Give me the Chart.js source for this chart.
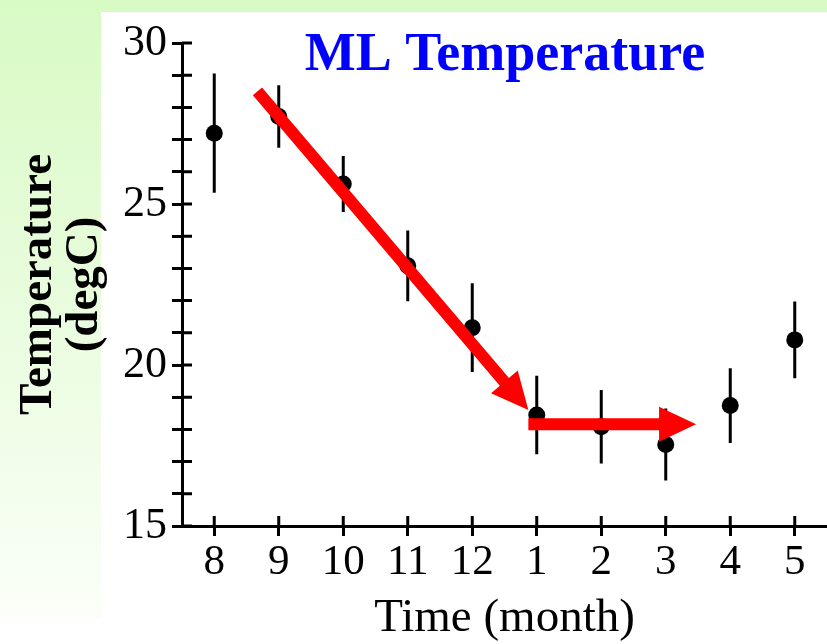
<!DOCTYPE html>
<html>
<head>
<meta charset="utf-8">
<script src="https://cdn.jsdelivr.net/npm/chart.js@4.4.1/dist/chart.umd.min.js"></script>
<style>
  html, body { margin: 0; padding: 0; background: #fff; }
  #wrap { width: 827px; height: 644px; }
</style>
</head>
<body>
<div id="wrap"><canvas id="myChartTemp" width="827" height="644"></canvas></div>
<script>
const months = ['8', '9', '10', '11', '12', '1', '2', '3', '4', '5'];
const temps = [27.2, 27.72, 25.62, 23.08, 21.16, 18.45, 18.08, 17.53, 18.74, 20.78];
const errors = [1.85, 0.97, 0.87, 1.1, 1.38, 1.22, 1.14, 1.12, 1.16, 1.19];
const yTicks = [15, 20, 25, 30];

// trend arrows, [month index, temperature]
const arrowStart = [[0.67, 28.5], [4.87, 18.16]];
const arrowEnd = [[4.87, 18.6], [7.47, 18.16]];

const serif = '"Liberation Serif", "Times New Roman", serif';

const background = {
  id: 'background',
  beforeDraw(chart) {
    const {ctx, width, height} = chart;
    ctx.save();
    const g = ctx.createLinearGradient(0, 0, 0, height);
    g.addColorStop(0, '#d8fac4');
    g.addColorStop(1, '#fcfffa');
    ctx.fillStyle = g;
    ctx.fillRect(0, 0, width, height);
    ctx.fillStyle = '#fff';
    ctx.fillRect(101, 12, width - 101, height - 12);
    ctx.fillRect(0, 618, width, height - 618);
    ctx.restore();
  }
};

// error bars plus the half of each tick mark that sits inside the plot
const errorBars = {
  id: 'errorBars',
  beforeDatasetsDraw(chart) {
    const {ctx, chartArea, scales: {x, y}} = chart;
    ctx.save();
    ctx.strokeStyle = '#000';
    ctx.lineWidth = 3;
    ctx.beginPath();
    for (let i = 0; i < temps.length; i++) {
      const px = x.getPixelForValue(i);
      ctx.moveTo(px, y.getPixelForValue(temps[i] + errors[i]));
      ctx.lineTo(px, y.getPixelForValue(temps[i] - errors[i]));
    }
    y.ticks.forEach(t => {
      const py = y.getPixelForValue(t.value);
      ctx.moveTo(chartArea.left, py);
      ctx.lineTo(chartArea.left + 10, py);
    });
    x.ticks.forEach(t => {
      const px = x.getPixelForValue(t.value);
      ctx.moveTo(px, chartArea.bottom);
      ctx.lineTo(px, chartArea.bottom - 10);
    });
    ctx.stroke();
    ctx.restore();
  }
};

function drawArrow(ctx, x1, y1, x2, y2) {
  const shaftW = 12, headL = 37, headW = 35;
  const ang = Math.atan2(y2 - y1, x2 - x1);
  const len = Math.hypot(x2 - x1, y2 - y1);
  ctx.save();
  ctx.translate(x1, y1);
  ctx.rotate(ang);
  ctx.beginPath();
  ctx.moveTo(0, -shaftW / 2);
  ctx.lineTo(len - headL, -shaftW / 2);
  ctx.lineTo(len - headL, -headW / 2);
  ctx.lineTo(len, 0);
  ctx.lineTo(len - headL, headW / 2);
  ctx.lineTo(len - headL, shaftW / 2);
  ctx.lineTo(0, shaftW / 2);
  ctx.closePath();
  ctx.fillStyle = '#ff0000';
  ctx.fill();
  ctx.restore();
}

const arrows = {
  id: 'arrows',
  afterDatasetsDraw(chart) {
    const {ctx, scales: {x, y}} = chart;
    for (let i = 0; i < arrowStart.length; i++) {
      drawArrow(ctx,
        x.getPixelForValue(arrowStart[i][0]), y.getPixelForValue(arrowStart[i][1]),
        x.getPixelForValue(arrowEnd[i][0]), y.getPixelForValue(arrowEnd[i][1]));
    }
  }
};

const plotTitle = {
  id: 'plotTitle',
  afterDraw(chart) {
    const {ctx, chartArea} = chart;
    ctx.save();
    ctx.font = 'bold 54px ' + serif;
    ctx.fillStyle = '#0000ff';
    ctx.textAlign = 'center';
    ctx.textBaseline = 'alphabetic';
    ctx.fillText('ML Temperature', 505, chartArea.top + 27);
    ctx.restore();
  }
};

chartIt();

function chartIt() {
  const ctx = document.getElementById('myChartTemp').getContext('2d');
  Chart.defaults.color = '#000';

  new Chart(ctx, {
    type: 'scatter',
    data: {
      datasets: [{
        label: 'ML Temperature',
        data: temps.map((t, i) => ({x: i, y: t})),
        backgroundColor: '#000',
        borderColor: '#000',
        borderWidth: 0,
        pointRadius: 8.5,
        pointHoverRadius: 8.5
      }]
    },
    options: {
      responsive: false,
      animation: false,
      layout: {autoPadding: false, padding: {top: 43, right: 0, bottom: 0, left: 0}},
      plugins: {
        legend: {display: false},
        tooltip: {enabled: false}
      },
      scales: {
        x: {
          type: 'linear',
          min: -0.5,
          max: 9.5,
          afterBuildTicks: axis => { axis.ticks = months.map((m, i) => ({value: i})); },
          afterFit: axis => {
            axis.height = 118;
            axis.paddingLeft = 0;
            axis.paddingRight = 0;
          },
          ticks: {
            callback: v => months[v] ?? '',
            font: {family: serif, size: 43},
            color: '#000',
            padding: 1,
            maxRotation: 0,
            autoSkip: false
          },
          grid: {drawOnChartArea: false, tickLength: 10, color: '#000', lineWidth: 3},
          border: {color: '#000', width: 3},
          title: {
            display: true,
            text: 'Time (month)',
            font: {family: serif, size: 47, lineHeight: 1},
            color: '#000',
            padding: {top: 0, bottom: 2}
          }
        },
        y: {
          min: 15,
          max: 30,
          afterFit: axis => { axis.width = 182; },
          ticks: {
            stepSize: 1,
            callback: v => yTicks.includes(v) ? String(v) : '',
            font: {family: serif, size: 44},
            color: '#000',
            padding: 5,
            autoSkip: false
          },
          grid: {drawOnChartArea: false, tickLength: 10, color: '#000', lineWidth: 3},
          border: {color: '#000', width: 3},
          title: {
            display: true,
            text: ['Temperature', '(degC)'],
            font: {family: serif, size: 47, weight: 'bold', lineHeight: 0.97},
            color: '#000',
            padding: {top: 16, bottom: 0}
          }
        }
      }
    },
    plugins: [background, errorBars, arrows, plotTitle]
  });
}
</script>
</body>
</html>
